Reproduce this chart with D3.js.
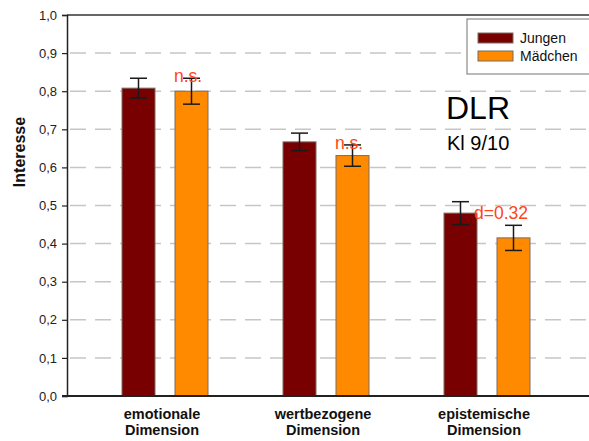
<!DOCTYPE html>
<html>
<head>
<meta charset="utf-8">
<script src="https://cdn.jsdelivr.net/npm/d3@7/dist/d3.min.js"></script>
<style>
  html, body { margin: 0; padding: 0; background: #fff; }
  svg { display: block; font-family: "Liberation Sans", Arial, sans-serif; }
</style>
</head>
<body>
<svg id="chart" width="589" height="441"></svg>
<script>
// Interest ratings by dimension, boys vs. girls (DLR, grade 9/10)
const categories = ["emotionale Dimension", "wertbezogene Dimension", "epistemische Dimension"];
const series = ["Jungen", "Mädchen"];
const jungenValues = [0.808, 0.667, 0.480];
const maedchenValues = [0.800, 0.631, 0.415];
const jungenErrors = [0.026, 0.023, 0.030];
const maedchenErrors = [0.034, 0.028, 0.033];
const annotations = ["n.s.", "n.s.", "d=0.32"];
const yTicks = [0, 0.1, 0.2, 0.3, 0.4, 0.5, 0.6, 0.7, 0.8, 0.9, 1.0];
const colors = { "Jungen": "#780000", "Mädchen": "#ff8a00" };

const data = categories.map((c, i) => ({
  category: c,
  bars: [
    { key: "Jungen", value: jungenValues[i], err: jungenErrors[i] },
    { key: "Mädchen", value: maedchenValues[i], err: maedchenErrors[i] }
  ],
  note: annotations[i]
}));

const svg = d3.select("#chart");
const plotLeft = 67, plotRight = 589, plotTop = 15, plotBottom = 396;

const y = d3.scaleLinear().domain([0, 1]).range([plotBottom, plotTop]);
const x0 = d3.scaleBand().domain(categories).range([84.5, 567.5]).paddingInner(0).paddingOuter(0);
const x1 = d3.scaleBand().domain(series).range([37.5, 123.5]).paddingInner(20 / 53).paddingOuter(0);

// dashed grid lines
svg.append("g").selectAll("line")
  .data(yTicks.filter(t => t > 0 && t < 1))
  .join("line")
  .attr("x1", plotLeft + 3).attr("x2", plotRight)
  .attr("y1", d => y(d)).attr("y2", d => y(d))
  .attr("stroke", "#c6c6c6").attr("stroke-width", 1.5)
  .attr("stroke-dasharray", "16,9");

// top frame line
svg.append("line")
  .attr("x1", plotLeft).attr("x2", plotRight)
  .attr("y1", y(1)).attr("y2", y(1))
  .attr("stroke", "#333").attr("stroke-width", 1.5);

// y axis
const yAxis = d3.axisLeft(y).tickValues(yTicks)
  .tickFormat(d => d3.format(".1f")(d).replace(".", ","))
  .tickSize(5).tickPadding(5);
const gy = svg.append("g").attr("transform", `translate(${plotLeft},0)`).call(yAxis);
gy.select(".domain").attr("stroke", "#222").attr("stroke-width", 1.5);
gy.selectAll(".tick line").attr("stroke", "#222").attr("stroke-width", 1.2);
gy.selectAll(".tick text")
  .attr("font-size", 13).attr("fill", "#222")
  .attr("font-family", "Liberation Sans, Arial, sans-serif");

// y axis title
svg.append("text")
  .attr("transform", `translate(25,152) rotate(-90)`)
  .attr("text-anchor", "middle")
  .attr("font-size", 16).attr("font-weight", "bold").attr("fill", "#111")
  .text("Interesse");

// bars
const groups = svg.append("g").selectAll("g")
  .data(data).join("g")
  .attr("transform", d => `translate(${x0(d.category)},0)`);

groups.selectAll("rect")
  .data(d => d.bars).join("rect")
  .attr("x", d => x1(d.key))
  .attr("width", x1.bandwidth())
  .attr("y", d => y(d.value))
  .attr("height", d => y(0) - y(d.value))
  .attr("fill", d => colors[d.key])
  .attr("stroke", "#7a6a60").attr("stroke-width", 1);

// error bars
const capHalf = 8.5;
const eb = groups.selectAll("g.err")
  .data(d => d.bars).join("g").attr("class", "err")
  .attr("stroke", "#1a1a1a").attr("stroke-width", 1.5);
eb.append("line")
  .attr("x1", d => x1(d.key) + x1.bandwidth() / 2)
  .attr("x2", d => x1(d.key) + x1.bandwidth() / 2)
  .attr("y1", d => y(d.value + d.err)).attr("y2", d => y(d.value - d.err));
eb.append("line")
  .attr("x1", d => x1(d.key) + x1.bandwidth() / 2 - capHalf)
  .attr("x2", d => x1(d.key) + x1.bandwidth() / 2 + capHalf)
  .attr("y1", d => y(d.value + d.err)).attr("y2", d => y(d.value + d.err));
eb.append("line")
  .attr("x1", d => x1(d.key) + x1.bandwidth() / 2 - capHalf)
  .attr("x2", d => x1(d.key) + x1.bandwidth() / 2 + capHalf)
  .attr("y1", d => y(d.value - d.err)).attr("y2", d => y(d.value - d.err));

// significance notes
groups.append("text")
  .attr("font-size", 17.5).attr("fill", "#ff4418")
  .attr("x", d => d.note.startsWith("d=")
    ? x1("Jungen") + x1.bandwidth() - 3
    : x1("Mädchen") - 1)
  .attr("y", d => d.note.startsWith("d=")
    ? y(d.bars[0].value) + 6
    : y(d.bars[1].value + d.bars[1].err) + 4)
  .text(d => d.note);

// x axis baseline
svg.append("line")
  .attr("x1", plotLeft - 5).attr("x2", plotRight)
  .attr("y1", y(0)).attr("y2", y(0))
  .attr("stroke", "#222").attr("stroke-width", 2);

// category labels, two lines each
const labelGroups = svg.append("g").selectAll("g")
  .data(categories).join("g")
  .attr("transform", d => `translate(${x0(d) + x0.bandwidth() / 2 - 3},0)`);
labelGroups.selectAll("text")
  .data(d => d.split(" ")).join("text")
  .attr("text-anchor", "middle")
  .attr("font-size", 14.5).attr("font-weight", "bold").attr("fill", "#111")
  .attr("x", 0)
  .attr("y", (d, i) => 419 + i * 16)
  .text(d => d);

// legend
const lg = svg.append("g");
lg.append("rect")
  .attr("x", 467).attr("y", 19).attr("width", 130).attr("height", 55)
  .attr("fill", "#fff").attr("stroke", "#8a8a8a").attr("stroke-width", 1.2);
series.forEach((s, i) => {
  lg.append("rect")
    .attr("x", 478).attr("y", 33 + i * 18).attr("width", 35).attr("height", 10)
    .attr("fill", colors[s]).attr("stroke", "#7a6a60").attr("stroke-width", 1);
  lg.append("text")
    .attr("x", 520).attr("y", 43 + i * 18)
    .attr("font-size", 14).attr("fill", "#111")
    .text(s);
});

// title block
svg.append("text")
  .attr("x", 446).attr("y", 119)
  .attr("font-size", 32).attr("fill", "#000")
  .text("DLR");
svg.append("text")
  .attr("x", 447).attr("y", 150)
  .attr("font-size", 20).attr("fill", "#000")
  .text("Kl 9/10");
</script>
</body>
</html>
